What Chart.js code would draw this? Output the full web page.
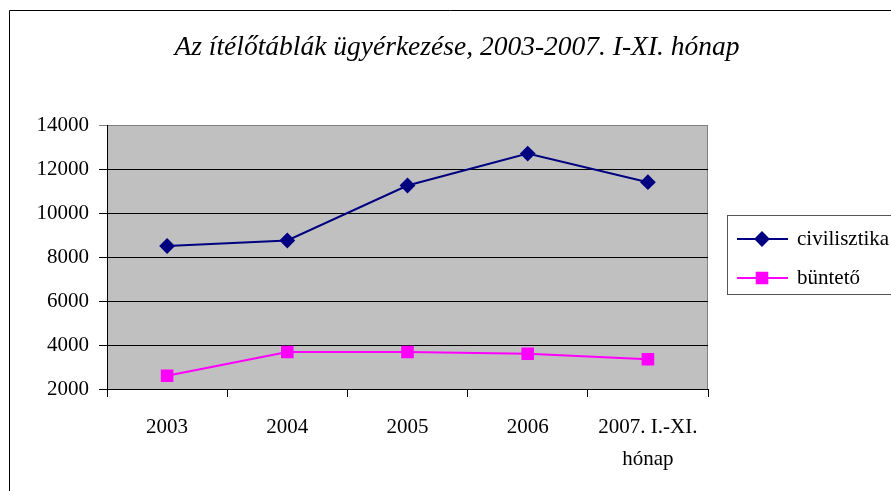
<!DOCTYPE html>
<html>
<head>
<meta charset="utf-8">
<script src="https://cdn.jsdelivr.net/npm/chart.js@4"></script>
<style>
  body { margin: 0; background: #fff; }
  canvas { display: block; }
</style>
</head>
<body>
<canvas id="chart" width="891" height="491"></canvas>
<script>
const years = ['2003', '2004', '2005', '2006', ['2007. I.-XI.', 'hónap']];
const civil = [8500, 8750, 11250, 12700, 11400];
const criminal = [2600, 3680, 3680, 3600, 3350];
const seriesNames = ['civilisztika', 'büntető'];
const chartTitle = 'Az ítélőtáblák ügyérkezése, 2003-2007. I-XI. hónap';

const serif = "'Liberation Serif', 'DejaVu Serif', serif";

// frame, title, grey plot area and the boxed legend
const decor = {
    id: 'decor',
    beforeDraw(chart) {
        const { ctx, chartArea: a } = chart;
        ctx.save();
        ctx.fillStyle = '#c0c0c0';
        ctx.fillRect(a.left, a.top, a.right - a.left, a.bottom - a.top);
        ctx.strokeStyle = '#808080';
        ctx.lineWidth = 1;
        ctx.beginPath();
        ctx.moveTo(a.left, a.top + 0.5);
        ctx.lineTo(a.right - 0.5, a.top + 0.5);
        ctx.lineTo(a.right - 0.5, a.bottom);
        ctx.stroke();
        // outer frame
        ctx.strokeStyle = '#000';
        ctx.beginPath();
        ctx.moveTo(9.5, 500);
        ctx.lineTo(9.5, 10.5);
        ctx.lineTo(900, 10.5);
        ctx.stroke();
        ctx.fillStyle = '#000';
        ctx.font = 'italic 27.5px ' + serif;
        ctx.textAlign = 'center';
        ctx.textBaseline = 'middle';
        ctx.fillText(chartTitle, 457, 48);
        ctx.restore();
    },
    afterDraw(chart) {
        const { ctx } = chart;
        ctx.save();
        ctx.strokeStyle = '#555';
        ctx.lineWidth = 1;
        ctx.strokeRect(727.5, 215.5, 200, 79);
        chart.data.datasets.forEach((ds, i) => {
            const y = 239 + i * 39;
            ctx.strokeStyle = ds.borderColor;
            ctx.lineWidth = 2;
            ctx.beginPath();
            ctx.moveTo(737, y);
            ctx.lineTo(788, y);
            ctx.stroke();
            Chart.helpers.drawPoint(ctx, {
                pointStyle: ds.pointStyle,
                radius: ds.pointRadius,
                borderWidth: 1
            }, 762, y);
            ctx.fillStyle = ds.pointBackgroundColor;
            ctx.fill();
            ctx.fillStyle = '#000';
            ctx.font = '21px ' + serif;
            ctx.textBaseline = 'middle';
            ctx.fillText(ds.label, 797, y);
        });
        ctx.restore();
    }
};

new Chart(document.getElementById('chart'), {
    type: 'line',
    data: {
        labels: years,
        datasets: [
            {
                label: seriesNames[0],
                data: civil,
                borderColor: '#000080',
                backgroundColor: '#000080',
                pointBackgroundColor: '#000080',
                pointBorderColor: '#000080',
                pointStyle: 'rectRot',
                pointRadius: 6.5,
                borderWidth: 2,
                tension: 0
            },
            {
                label: seriesNames[1],
                data: criminal,
                borderColor: '#ff00ff',
                backgroundColor: '#ff00ff',
                pointBackgroundColor: '#ff00ff',
                pointBorderColor: '#ff00ff',
                pointStyle: 'rect',
                pointRadius: 7.5,
                borderWidth: 2,
                tension: 0
            }
        ]
    },
    options: {
        responsive: false,
        animation: false,
        layout: { padding: { top: 125, right: 183, bottom: 0, left: 0 } },
        plugins: {
            legend: { display: false },
            title: { display: false },
            tooltip: { enabled: false }
        },
        scales: {
            x: {
                offset: true,
                afterFit: (s) => { s.height = 102; },
                border: { color: '#000', width: 1 },
                grid: { drawOnChartArea: false, offset: true, tickLength: 8, color: '#000' },
                ticks: { color: '#000', padding: 15, maxRotation: 0, font: { family: serif, size: 21, lineHeight: 1.5 } }
            },
            y: {
                min: 2000,
                max: 14000,
                afterFit: (s) => { s.width = 107; },
                border: { color: '#000', width: 1 },
                grid: {
                    tickLength: 8,
                    color: (c) => c.tick && c.tick.value === 14000 ? '#808080' : '#000'
                },
                ticks: {
                    stepSize: 2000,
                    color: '#000',
                    padding: 10,
                    font: { family: serif, size: 21 },
                    callback: (v) => String(v)
                }
            }
        }
    },
    plugins: [decor]
});
</script>
</body>
</html>
